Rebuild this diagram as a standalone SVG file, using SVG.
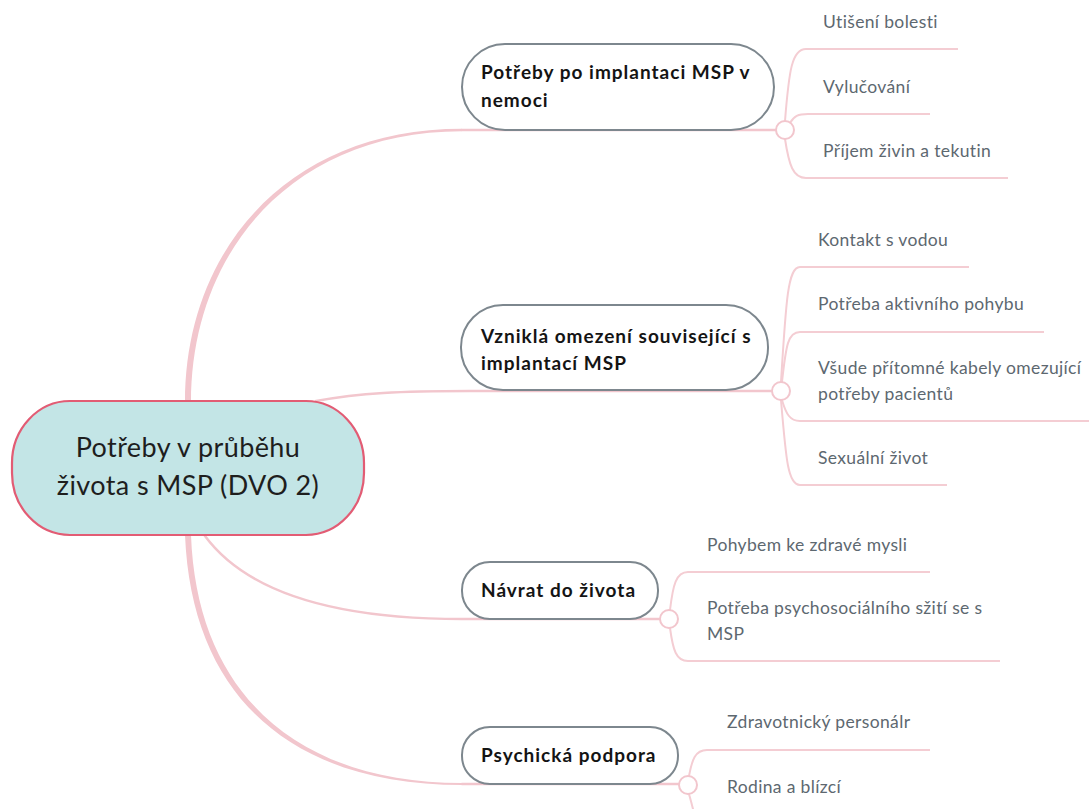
<svg xmlns="http://www.w3.org/2000/svg" width="1089" height="809" viewBox="0 0 1089 809">
  <style>
    .bg { fill: #ffffff; }
    .link { fill: none; stroke: #f2c6cd; stroke-width: 2.5; stroke-linecap: round; }
    .sub { fill: none; stroke: #f4cdd3; stroke-width: 2; }
    .taper { fill: #f2c6cd; stroke: none; }
    .knob { fill: #ffffff; stroke: #f2c6cd; stroke-width: 2; }
    .root-box { fill: #c3e5e6; stroke: #e25c74; stroke-width: 2.2; }
    .topic-box { fill: #ffffff; stroke: #7d878e; stroke-width: 2; }
    .root-text { font-family: Lato, "Liberation Sans", sans-serif; font-size: 27px; letter-spacing: 0.4px; fill: #1e1e1e; text-anchor: middle; }
    .topic-text { font-family: Lato, "Liberation Sans", sans-serif; font-size: 19px; letter-spacing: 1px; font-weight: bold; fill: #141414; }
    .leaf-text { font-family: Lato, "Liberation Sans", sans-serif; font-size: 17.5px; letter-spacing: 0.35px; fill: #5d6870; }
  </style>

  <rect class="bg" x="0" y="0" width="1089" height="809"/>

  <g id="connectors">
    <!-- root to main topics -->
    <path class="taper" d="M185,402 C185,248 290,128.8 462,128.8 L462,131.2 C292,131.2 191,252 191,402 Z"/>
    <path class="link" d="M462,130 H785"/>
    <path class="link" d="M316,401 C360,393 400,391 470,391 H781"/>
    <path class="link" d="M205,536 C245,590 330,619 462,619 H669"/>
    <path class="taper" d="M185,535 C192,703 298,785 462,785 L462,783 C302,783 197,698 191,535 Z"/>
    <path class="link" d="M462,784 H688"/>

    <!-- branch: Potřeby po implantaci MSP v nemoci -->
    <path class="sub" d="M785,121 C789,70 792,49 806,49 H958"/>
    <path class="sub" d="M790,123 C794,116 798,114 808,114 H930"/>
    <path class="sub" d="M785,139 C789,165 793,178 806,178 H1008"/>

    <!-- branch: Vzniklá omezení související s implantací MSP -->
    <path class="sub" d="M781,382 C786,300 788,267 800,267 H969"/>
    <path class="sub" d="M782,382 C786,345 788,332 800,332 H1044"/>
    <path class="sub" d="M782,400 C786,414 790,421 800,421 H1089"/>
    <path class="sub" d="M781,400 C786,460 788,485 800,485 H947"/>

    <!-- branch: Návrat do života -->
    <path class="sub" d="M670,610 C673,585 676,572 688,572 H930"/>
    <path class="sub" d="M670,628 C673,650 676,661 688,661 H1000"/>

    <!-- branch: Psychická podpora -->
    <path class="sub" d="M689,776 C692,760 695,750 707,750 H930"/>
    <path class="sub" d="M689,794 C692,805 694,812 696,822"/>

    <!-- junction knobs -->
    <circle class="knob" cx="785" cy="130" r="9"/>
    <circle class="knob" cx="781" cy="391" r="9"/>
    <circle class="knob" cx="669" cy="619" r="9"/>
    <circle class="knob" cx="688" cy="785" r="9"/>
  </g>

  <g id="root">
    <rect class="root-box" x="12" y="401" width="352" height="134" rx="58" ry="62"/>
    <text class="root-text" x="188" y="457">Potřeby v průběhu</text>
    <text class="root-text" x="188" y="495">života s MSP (DVO 2)</text>
  </g>

  <g id="topic-implantace">
    <rect class="topic-box" x="462" y="44" width="312" height="86" rx="43"/>
    <text class="topic-text" x="481" y="79">Potřeby po implantaci MSP v</text>
    <text class="topic-text" x="481" y="107">nemoci</text>
  </g>

  <g id="topic-omezeni">
    <rect class="topic-box" x="461" y="305" width="307" height="85" rx="42"/>
    <text class="topic-text" x="481" y="343">Vzniklá omezení související s</text>
    <text class="topic-text" x="481" y="370">implantací MSP</text>
  </g>

  <g id="topic-navrat">
    <rect class="topic-box" x="462" y="562" width="196" height="57" rx="28"/>
    <text class="topic-text" x="481" y="597">Návrat do života</text>
  </g>

  <g id="topic-podpora">
    <rect class="topic-box" x="462" y="727" width="216" height="57" rx="28"/>
    <text class="topic-text" x="481" y="762">Psychická podpora</text>
  </g>

  <g id="leaf-bolest"><text class="leaf-text" x="823" y="28">Utišení bolesti</text></g>
  <g id="leaf-vylucovani"><text class="leaf-text" x="823" y="93">Vylučování</text></g>
  <g id="leaf-prijem"><text class="leaf-text" x="823" y="157">Příjem živin a tekutin</text></g>

  <g id="leaf-voda"><text class="leaf-text" x="818" y="246">Kontakt s vodou</text></g>
  <g id="leaf-pohyb"><text class="leaf-text" x="818" y="310">Potřeba aktivního pohybu</text></g>
  <g id="leaf-kabely">
    <text class="leaf-text" x="818" y="374">Všude přítomné kabely omezující</text>
    <text class="leaf-text" x="818" y="400">potřeby pacientů</text>
  </g>
  <g id="leaf-sex"><text class="leaf-text" x="818" y="464">Sexuální život</text></g>

  <g id="leaf-mysl"><text class="leaf-text" x="707" y="551">Pohybem ke zdravé mysli</text></g>
  <g id="leaf-psychosocialni">
    <text class="leaf-text" x="707" y="614">Potřeba psychosociálního sžití se s</text>
    <text class="leaf-text" x="707" y="640">MSP</text>
  </g>

  <g id="leaf-personal"><text class="leaf-text" x="727" y="728">Zdravotnický personálr</text></g>
  <g id="leaf-rodina"><text class="leaf-text" x="727" y="793">Rodina a blízcí</text></g>
</svg>
